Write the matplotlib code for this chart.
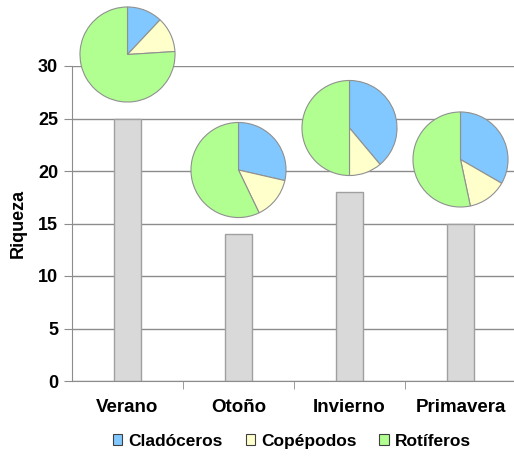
import matplotlib
matplotlib.use('Agg')
import matplotlib.pyplot as plt
from matplotlib.patches import Patch

# data
seasons = ['Verano', 'Otoño', 'Invierno', 'Primavera']
riqueza = [25, 14, 18, 15]
groups = ['Cladóceros', 'Copépodos', 'Rotíferos']
cladoceros = [3, 4, 7, 5]
copepodos = [3, 2, 2, 2]
rotiferos = [19, 8, 9, 8]

colors = ['#80c8ff', '#ffffcc', '#b0ff90']

plt.rcParams['font.family'] = ['Liberation Sans', 'DejaVu Sans']
plt.rcParams['font.weight'] = 'bold'

fig = plt.figure(figsize=(5.14, 4.57), dpi=100)
ax = fig.add_axes([72 / 514, 76 / 457, 444 / 514, 315 / 457])

x = list(range(len(seasons)))
ax.bar(x, riqueza, width=0.25, color='#d9d9d9', edgecolor='#a0a0a0', linewidth=1, zorder=2)

ax.set_xlim(-0.5, 3.5)
ax.set_ylim(0, 30)
ax.set_yticks(range(0, 31, 5))
ax.set_yticklabels([str(v) for v in range(0, 31, 5)], fontsize=13, fontweight='bold')
ax.yaxis.grid(True, color='#8c8c8c', linewidth=1, zorder=0)
ax.set_axisbelow(True)

ax.set_xticks(x)
ax.set_xticklabels(seasons, fontsize=13.5, fontweight='bold')
ax.tick_params(axis='x', length=0, pad=13)
ax.set_xticks([0.5, 1.5, 2.5], minor=True)
ax.tick_params(axis='x', which='minor', length=6, color='#8c8c8c')
ax.tick_params(axis='y', length=6, color='#8c8c8c', pad=4)

for s in ['top', 'right']:
    ax.spines[s].set_visible(False)
for s in ['left', 'bottom']:
    ax.spines[s].set_color('#8c8c8c')

ax.set_ylabel('Riqueza', fontsize=13, fontweight='bold', labelpad=8)

# pies above the bars
pw = 96 / 111
ph = 96 / 10.5
off = 64 / 10.5
for i in range(len(seasons)):
    pax = ax.inset_axes([x[i] - pw / 2, riqueza[i] + off - ph / 2, pw, ph],
                        transform=ax.transData)
    vals = [cladoceros[i], copepodos[i], rotiferos[i]]
    pax.pie(vals, colors=colors, startangle=90, counterclock=False,
            wedgeprops=dict(edgecolor='#909090', linewidth=0.8))
    pax.set_xlim(-1.01, 1.01)
    pax.set_ylim(-1.01, 1.01)
    pax.set_aspect('equal')
    pax.set_zorder(5)

handles = [Patch(facecolor=c, edgecolor='#404040', linewidth=0.8) for c in colors]
fig.legend(handles, groups, loc='center', bbox_to_anchor=(0.568, 0.035), ncol=3,
           frameon=False, prop=dict(size=12.5, weight='bold'), handlelength=0.55,
           handleheight=0.55, handletextpad=0.35, columnspacing=1.3)

fig.savefig('out.png', dpi=100)
